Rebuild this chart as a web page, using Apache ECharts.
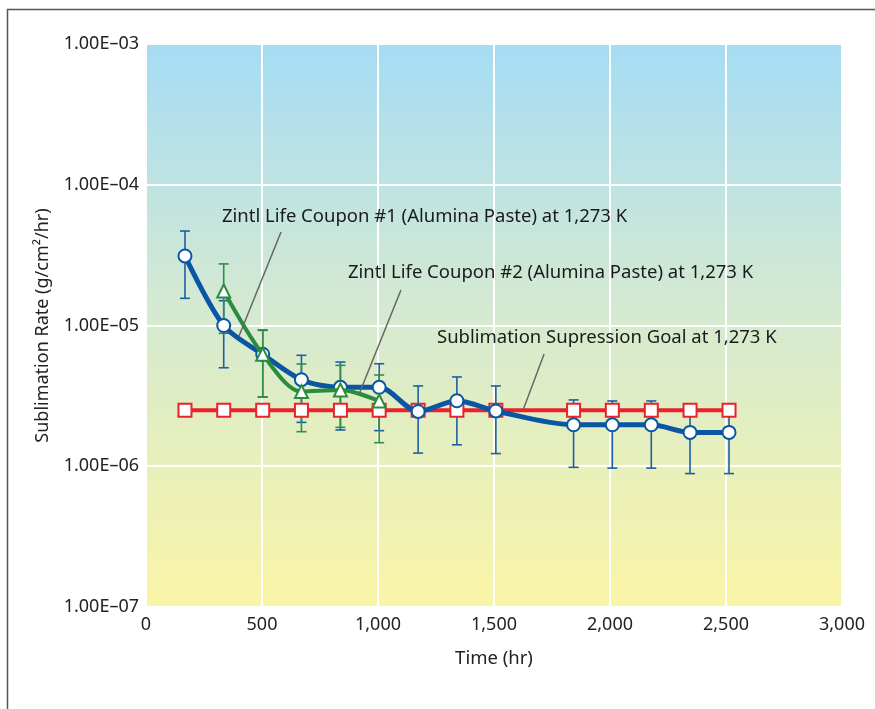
<!DOCTYPE html>
<html>
<head>
<meta charset="utf-8">
<script src="https://cdn.jsdelivr.net/npm/echarts@6/dist/echarts.min.js"></script>
<style>
  html, body { margin: 0; padding: 0; background: #fff; }
  #main { width: 875px; height: 709px; }
</style>
</head>
<body>
<div id="main"></div>
<script>
// time in hours (one point per week of testing)
const coupon1Time = [168, 335, 503, 670, 838, 1005, 1173, 1340, 1508, 1843, 2010, 2178, 2345, 2513];
const coupon1 = [3.12e-5, 1.0e-5, 6.25e-6, 4.12e-6, 3.64e-6, 3.64e-6, 2.45e-6, 2.92e-6, 2.47e-6, 1.97e-6, 1.97e-6, 1.97e-6, 1.74e-6, 1.74e-6];
const coupon1High = [4.69e-5, 1.5e-5, 9.24e-6, 6.14e-6, 5.5e-6, 5.35e-6, 3.72e-6, 4.31e-6, 3.72e-6, 2.96e-6, 2.91e-6, 2.91e-6, 2.6e-6, 2.6e-6];
const coupon1Low = [1.56e-5, 5.01e-6, 3.1e-6, 2.05e-6, 1.81e-6, 1.79e-6, 1.24e-6, 1.42e-6, 1.23e-6, 9.83e-7, 9.7e-7, 9.7e-7, 8.87e-7, 8.87e-7];

const coupon2Time = [335, 503, 670, 838, 1005];
const coupon2 = [1.76e-5, 6.25e-6, 3.39e-6, 3.48e-6, 2.91e-6];
const coupon2High = [2.74e-5, 9.3e-6, 5.33e-6, 5.21e-6, 4.45e-6];
const coupon2Low = [8.8e-6, 3.1e-6, 1.76e-6, 1.89e-6, 1.47e-6];

const goalTime = [168, 335, 503, 670, 838, 1005, 1173, 1340, 1508, 1843, 2010, 2178, 2345, 2513];
const goal = [2.5e-6, 2.5e-6, 2.5e-6, 2.5e-6, 2.5e-6, 2.5e-6, 2.5e-6, 2.5e-6, 2.5e-6, 2.5e-6, 2.5e-6, 2.5e-6, 2.5e-6, 2.5e-6];

const xTickLabels = ['0', '500', '1,000', '1,500', '2,000', '2,500', '3,000'];
const yTickLabels = ['1.00E\u201307', '1.00E\u201306', '1.00E\u201305', '1.00E\u201304', '1.00E\u201303'];

// leader lines for the annotations [time, rate] -> [time, rate]
const leader1 = [[582, 4.62e-5], [401, 8.42e-6]];
const leader2 = [[1099, 1.79e-5], [922, 3.37e-6]];
const leader3 = [[1716, 6.27e-6], [1625, 2.5e-6]];

const FONT = '"Noto Sans", sans-serif';

function zip(xs, ys) {
  return xs.map((x, i) => [x, ys[i]]);
}
function errData(xs, lo, hi) {
  return xs.map((x, i) => [x, lo[i], hi[i]]);
}
function errorBars(color) {
  return function (params, api) {
    var top = api.coord([api.value(0), api.value(2)]);
    var bot = api.coord([api.value(0), api.value(1)]);
    var w = 5;
    var style = { stroke: color, lineWidth: 1.6 };
    return {
      type: 'group',
      children: [
        { type: 'line', shape: { x1: top[0], y1: top[1], x2: bot[0], y2: bot[1] }, style: style },
        { type: 'line', shape: { x1: top[0] - w, y1: top[1], x2: top[0] + w, y2: top[1] }, style: style },
        { type: 'line', shape: { x1: bot[0] - w, y1: bot[1], x2: bot[0] + w, y2: bot[1] }, style: style }
      ]
    };
  };
}

var chartDom = document.getElementById('main');
var myChart = echarts.init(chartDom);

var option = {
  animation: false,
  backgroundColor: '#fff',
  textStyle: { fontFamily: FONT },
  grid: {
    left: 146,
    top: 44,
    right: 33,
    bottom: 102,
    show: true,
    borderWidth: 0,
    backgroundColor: {
      type: 'linear', x: 0, y: 0, x2: 0, y2: 1,
      colorStops: [
        { offset: 0, color: '#a5dcf4' },
        { offset: 0.45, color: '#d3e9d3' },
        { offset: 1, color: '#faf5a6' }
      ]
    }
  },
  xAxis: {
    type: 'value',
    min: 0,
    max: 3000,
    interval: 500,
    name: 'Time (hr)',
    nameLocation: 'middle',
    nameGap: 42,
    nameTextStyle: { fontSize: 18.5, color: '#222', fontFamily: FONT },
    axisLine: { show: false },
    axisTick: { show: false },
    axisLabel: {
      fontSize: 18,
      color: '#222',
      margin: 9,
      fontFamily: FONT,
      formatter: function (v) { return xTickLabels[Math.round(v / 500)]; }
    },
    splitLine: { show: true, lineStyle: { color: '#fff', width: 2 } }
  },
  yAxis: {
    type: 'log',
    logBase: 10,
    min: 1e-7,
    max: 1e-3,
    name: 'Sublimation Rate (g/cm\u00b2/hr)',
    nameLocation: 'middle',
    nameGap: 94,
    nameTextStyle: { fontSize: 18, color: '#222', fontFamily: FONT },
    axisLine: { show: false },
    axisTick: { show: false },
    minorTick: { show: false },
    axisLabel: {
      fontSize: 18,
      color: '#222',
      margin: 7,
      fontFamily: FONT,
      formatter: function (v) {
        var e = Math.round(Math.log10(v)) + 7;
        return yTickLabels[e];
      }
    },
    splitLine: { show: true, lineStyle: { color: '#fff', width: 2 } }
  },
  series: [
    {
      name: 'Coupon #1 error',
      type: 'custom',
      renderItem: errorBars('#1d5fa6'),
      data: errData(coupon1Time, coupon1Low, coupon1High),
      z: 2,
      silent: true
    },
    {
      name: 'Coupon #2 error',
      type: 'custom',
      renderItem: errorBars('#2f8f45'),
      data: errData(coupon2Time, coupon2Low, coupon2High),
      z: 2,
      silent: true
    },
    {
      name: 'Sublimation Supression Goal',
      type: 'line',
      data: zip(goalTime, goal),
      symbol: 'rect',
      symbolSize: 13,
      lineStyle: { color: '#e8232b', width: 4 },
      itemStyle: { color: '#fff', borderColor: '#e8232b', borderWidth: 2 },
      z: 3,
      markLine: {
        silent: true,
        symbol: 'none',
        label: { show: false },
        lineStyle: { color: '#666', width: 1.5, type: 'solid' },
        data: [
          [{ coord: leader1[0] }, { coord: leader1[1] }],
          [{ coord: leader2[0] }, { coord: leader2[1] }],
          [{ coord: leader3[0] }, { coord: leader3[1] }]
        ],
        z: 10
      }
    },
    {
      name: 'Zintl Life Coupon #1',
      type: 'line',
      data: zip(coupon1Time, coupon1),
      smooth: 0.3,
      symbol: 'circle',
      symbolSize: 13,
      lineStyle: { color: '#0b56a4', width: 5 },
      itemStyle: { color: '#fff', borderColor: '#0b56a4', borderWidth: 2 },
      z: 4
    },
    {
      name: 'Zintl Life Coupon #2',
      type: 'line',
      data: zip(coupon2Time, coupon2),
      smooth: 0.3,
      symbol: 'triangle',
      symbolSize: 13,
      lineStyle: { color: '#2a8d3e', width: 4 },
      itemStyle: { color: '#fff', borderColor: '#2a8d3e', borderWidth: 2 },
      z: 5
    }
  ],
  graphic: [
    {
      type: 'rect',
      left: 5, top: 7,
      shape: { width: 900, height: 800 },
      style: { fill: 'none', stroke: '#555', lineWidth: 1.5 },
      z: 100
    },
    {
      type: 'text', left: 222, top: 207,
      style: { text: 'Zintl Life Coupon #1 (Alumina Paste) at 1,273 K', font: '18.5px ' + FONT, fill: '#1a1a1a' },
      z: 100
    },
    {
      type: 'text', left: 348, top: 263,
      style: { text: 'Zintl Life Coupon #2 (Alumina Paste) at 1,273 K', font: '18.5px ' + FONT, fill: '#1a1a1a' },
      z: 100
    },
    {
      type: 'text', left: 437, top: 328,
      style: { text: 'Sublimation Supression Goal at 1,273 K', font: '18.5px ' + FONT, fill: '#1a1a1a' },
      z: 100
    }
  ]
};

option && myChart.setOption(option);
</script>
</body>
</html>
